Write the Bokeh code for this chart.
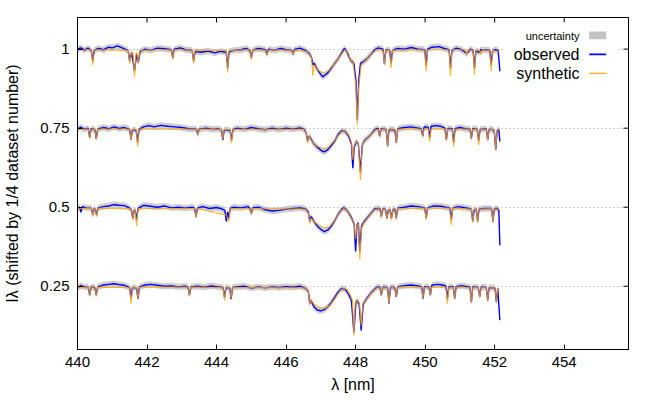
from bokeh.plotting import figure
from bokeh.models import (FixedTicker, NumeralTickFormatter, Label, BoxAnnotation, Range1d)
from bokeh.embed import file_html
from bokeh.resources import INLINE

# ---------------- data (normalised intensities) ----------------
# dataset 1 (top, shift 0)
wl_obs1 = [440.00, 440.10, 440.20, 440.30, 440.40, 440.44, 440.48, 440.60, 440.75, 440.90,
           441.00, 441.15, 441.30, 441.46, 441.50, 441.56, 441.64, 441.70, 441.75, 441.80,
           441.95, 442.10, 442.30, 442.50, 442.70, 442.74, 442.78, 442.95, 443.10, 443.30,
           443.34, 443.38, 443.55, 443.75, 443.95, 444.10, 444.28, 444.32, 444.36, 444.50,
           444.70, 444.85, 444.96, 445.00, 445.04, 445.20, 445.41, 445.45, 445.49, 445.65,
           445.85, 446.00, 446.16, 446.20, 446.24, 446.40, 446.55, 446.65, 446.73, 446.77,
           446.81, 446.90, 447.00, 447.05, 447.12, 447.20, 447.30, 447.40, 447.50, 447.60,
           447.68, 447.76, 447.85, 447.95, 448.01, 448.05, 448.09, 448.14, 448.25, 448.35,
           448.45, 448.55, 448.65, 448.79, 448.83, 448.87, 448.98, 449.02, 449.06, 449.20,
           449.40, 449.60, 449.80, 449.99, 450.03, 450.07, 450.20, 450.40, 450.55, 450.69,
           450.73, 450.77, 450.90, 451.05, 451.20, 451.30, 451.38, 451.42, 451.46, 451.55,
           451.60, 451.65, 451.75, 451.86, 451.90, 451.94, 452.02, 452.10, 452.15]
obs1 = [1.000, 1.004, 0.997, 1.003, 0.995, 0.962, 0.996, 1.002, 0.998, 1.006,
        1.004, 1.010, 1.003, 0.995, 0.962, 0.990, 0.930, 0.985, 0.958, 0.993,
        1.000, 0.996, 1.003, 1.001, 0.998, 0.972, 1.000, 1.004, 0.998, 0.996,
        0.962, 0.992, 0.990, 0.994, 0.988, 0.993, 0.990, 0.940, 0.992, 0.996,
        0.998, 1.002, 0.996, 0.972, 0.997, 1.002, 0.998, 0.982, 1.000, 0.996,
        1.002, 0.998, 0.996, 0.984, 0.999, 1.003, 0.996, 0.988, 0.975, 0.950,
        0.955, 0.935, 0.920, 0.912, 0.918, 0.925, 0.940, 0.955, 0.970, 0.988,
        1.002, 0.990, 0.965, 0.955, 0.900, 0.775, 0.900, 0.955, 0.962, 0.972,
        0.985, 0.998, 1.004, 1.000, 0.952, 0.998, 0.996, 0.955, 0.995, 1.002,
        1.000, 1.005, 1.000, 0.998, 0.948, 1.000, 1.006, 1.008, 1.002, 0.998,
        0.940, 0.996, 1.003, 0.998, 0.986, 1.000, 0.996, 0.940, 0.995, 0.990,
        0.998, 0.996, 0.998, 0.996, 0.950, 0.995, 0.998, 0.996, 0.930]
wl_syn1 = [440.00, 440.40, 440.44, 440.48, 441.46, 441.50, 441.56, 441.60, 441.64, 441.68,
           441.71, 441.75, 441.79, 442.70, 442.74, 442.78, 443.30, 443.34, 443.38, 444.28,
           444.32, 444.36, 444.96, 445.00, 445.04, 445.41, 445.45, 445.49, 446.16, 446.20,
           446.24, 446.60, 446.73, 446.77, 446.81, 446.90, 447.05, 447.20, 447.40, 447.60,
           447.70, 447.80, 447.85, 447.92, 448.01, 448.05, 448.09, 448.16, 448.30, 448.45,
           448.60, 448.79, 448.83, 448.87, 448.98, 449.02, 449.06, 449.99, 450.03, 450.07,
           450.69, 450.73, 450.77, 451.16, 451.20, 451.24, 451.38, 451.42, 451.46, 451.56,
           451.60, 451.64, 451.86, 451.90, 451.94, 452.15]
syn1 = [0.998, 0.998, 0.950, 0.998, 0.996, 0.955, 0.992, 0.985, 0.913, 0.985,
        0.990, 0.955, 0.996, 0.998, 0.968, 0.998, 0.997, 0.955, 0.997, 0.996,
        0.926, 0.996, 0.998, 0.968, 0.998, 0.997, 0.980, 0.997, 0.997, 0.983,
        0.997, 0.992, 0.975, 0.915, 0.950, 0.935, 0.925, 0.930, 0.955, 0.985,
        0.998, 0.985, 0.962, 0.965, 0.880, 0.760, 0.880, 0.950, 0.965, 0.985,
        0.998, 0.997, 0.950, 0.997, 0.996, 0.940, 0.996, 0.998, 0.930, 0.998,
        0.998, 0.915, 0.998, 0.998, 0.983, 0.998, 0.997, 0.920, 0.997, 0.997,
        0.982, 0.997, 0.997, 0.930, 0.997, 0.990]

# dataset 2 (shift -0.25)
wl_obs2 = [440.00, 440.10, 440.20, 440.31, 440.35, 440.39, 440.50, 440.54, 440.58, 440.75,
           440.90, 441.05, 441.20, 441.35, 441.50, 441.54, 441.58, 441.69, 441.73, 441.77,
           441.90, 442.05, 442.20, 442.40, 442.60, 442.80, 443.00, 443.20, 443.42, 443.46,
           443.50, 443.70, 443.90, 444.05, 444.14, 444.18, 444.22, 444.39, 444.43, 444.47,
           444.60, 444.80, 445.00, 445.20, 445.40, 445.60, 445.80, 446.00, 446.20, 446.40,
           446.52, 446.58, 446.62, 446.66, 446.72, 446.80, 446.90, 447.00, 447.10, 447.20,
           447.30, 447.40, 447.50, 447.60, 447.70, 447.80, 447.88, 447.92, 447.96, 448.02,
           448.08, 448.14, 448.19, 448.25, 448.40, 448.55, 448.65, 448.69, 448.73, 448.88,
           448.92, 448.96, 449.13, 449.17, 449.21, 449.40, 449.60, 449.80, 449.89, 449.93,
           449.97, 450.09, 450.13, 450.17, 450.30, 450.45, 450.57, 450.61, 450.65, 450.78,
           450.82, 450.86, 451.00, 451.15, 451.29, 451.33, 451.37, 451.50, 451.54, 451.58,
           451.76, 451.80, 451.84, 451.95, 451.99, 452.03, 452.07, 452.12, 452.15]
obs2 = [0.998, 1.003, 0.996, 1.000, 0.970, 0.998, 0.996, 0.966, 0.997, 1.002,
        0.998, 1.004, 0.999, 1.002, 0.996, 0.964, 0.995, 0.993, 0.955, 0.996,
        1.004, 1.008, 1.004, 1.009, 1.006, 1.004, 1.002, 0.998, 0.997, 0.980,
        0.997, 1.000, 0.996, 0.998, 0.994, 0.963, 0.995, 0.993, 0.962, 0.996,
        1.000, 0.996, 1.002, 0.998, 0.995, 1.000, 0.996, 1.000, 0.997, 1.001,
        0.996, 0.985, 0.958, 0.975, 0.965, 0.950, 0.940, 0.930, 0.925, 0.932,
        0.945, 0.960, 0.980, 0.992, 0.990, 0.975, 0.950, 0.873, 0.940, 0.958,
        0.950, 0.860, 0.945, 0.960, 0.975, 0.995, 1.000, 0.975, 0.998, 0.996,
        0.943, 0.996, 0.995, 0.953, 0.998, 1.002, 1.004, 1.000, 0.998, 0.975,
        1.004, 1.003, 0.970, 1.006, 1.008, 1.006, 1.000, 0.963, 0.999, 0.998,
        0.955, 0.998, 1.002, 0.998, 0.997, 0.968, 0.999, 0.996, 0.960, 0.996,
        0.998, 0.963, 0.997, 0.995, 0.990, 0.932, 0.992, 0.996, 0.958]
wl_syn2 = [440.00, 440.31, 440.35, 440.39, 440.50, 440.54, 440.58, 441.50, 441.54, 441.58,
           441.69, 441.73, 441.77, 443.42, 443.46, 443.50, 444.14, 444.18, 444.22, 444.39,
           444.43, 444.47, 446.50, 446.58, 446.62, 446.66, 446.72, 446.85, 447.05, 447.20,
           447.40, 447.60, 447.70, 447.80, 447.88, 447.92, 447.96, 448.02, 448.08, 448.14,
           448.19, 448.25, 448.40, 448.55, 448.65, 448.69, 448.73, 448.88, 448.92, 448.96,
           449.13, 449.17, 449.21, 449.89, 449.93, 449.97, 450.09, 450.13, 450.17, 450.57,
           450.61, 450.65, 450.78, 450.82, 450.86, 451.29, 451.33, 451.37, 451.50, 451.54,
           451.58, 451.76, 451.80, 451.84, 451.99, 452.03, 452.07, 452.15]
syn2 = [0.997, 0.997, 0.968, 0.997, 0.997, 0.965, 0.997, 0.997, 0.962, 0.997,
        0.995, 0.942, 0.997, 0.997, 0.978, 0.997, 0.996, 0.965, 0.996, 0.995,
        0.953, 0.996, 0.996, 0.985, 0.955, 0.975, 0.962, 0.945, 0.935, 0.938,
        0.962, 0.990, 0.992, 0.978, 0.955, 0.900, 0.945, 0.958, 0.950, 0.836,
        0.945, 0.958, 0.975, 0.993, 0.997, 0.975, 0.997, 0.996, 0.943, 0.996,
        0.996, 0.953, 0.997, 0.997, 0.975, 0.997, 0.997, 0.958, 0.997, 0.997,
        0.963, 0.997, 0.996, 0.942, 0.997, 0.997, 0.968, 0.997, 0.996, 0.947,
        0.997, 0.997, 0.963, 0.997, 0.994, 0.932, 0.994, 0.995]

# dataset 3 (shift -0.5)
wl_obs3 = [440.00, 440.06, 440.10, 440.14, 440.25, 440.40, 440.44, 440.48, 440.51, 440.55,
           440.59, 440.75, 440.90, 441.05, 441.20, 441.35, 441.50, 441.55, 441.59, 441.63,
           441.66, 441.70, 441.74, 441.90, 442.10, 442.30, 442.50, 442.70, 442.90, 443.10,
           443.30, 443.37, 443.41, 443.45, 443.60, 443.80, 444.00, 444.15, 444.24, 444.28,
           444.32, 444.35, 444.39, 444.50, 444.70, 444.90, 444.96, 445.00, 445.04, 445.20,
           445.40, 445.60, 445.80, 446.00, 446.20, 446.40, 446.55, 446.64, 446.68, 446.72,
           446.80, 446.90, 447.00, 447.10, 447.20, 447.30, 447.40, 447.50, 447.60, 447.66,
           447.75, 447.84, 447.90, 447.96, 448.00, 448.04, 448.08, 448.12, 448.17, 448.25,
           448.40, 448.55, 448.70, 448.74, 448.78, 448.86, 448.90, 448.94, 448.99, 449.03,
           449.07, 449.13, 449.17, 449.21, 449.40, 449.60, 449.80, 449.99, 450.03, 450.07,
           450.25, 450.45, 450.60, 450.71, 450.75, 450.79, 450.95, 451.10, 451.25, 451.33,
           451.37, 451.41, 451.47, 451.51, 451.55, 451.70, 451.91, 451.95, 451.99, 452.08,
           452.12, 452.15]
obs3 = [0.995, 1.000, 0.985, 1.002, 0.998, 0.997, 0.976, 0.996, 0.994, 0.975,
        0.998, 1.002, 1.004, 1.008, 1.006, 1.005, 0.997, 0.992, 0.965, 0.992,
        0.990, 0.960, 0.996, 1.006, 1.003, 1.000, 1.004, 0.998, 1.000, 0.997,
        1.000, 0.996, 0.970, 0.997, 1.002, 0.996, 0.999, 0.995, 0.990, 0.955,
        0.985, 0.965, 0.996, 1.000, 0.998, 1.002, 0.996, 0.980, 0.998, 1.000,
        0.992, 0.988, 0.990, 0.994, 0.996, 0.998, 0.995, 0.985, 0.955, 0.970,
        0.955, 0.940, 0.930, 0.923, 0.928, 0.940, 0.958, 0.978, 0.993, 0.998,
        0.990, 0.975, 0.962, 0.945, 0.860, 0.945, 0.950, 0.860, 0.940, 0.955,
        0.975, 0.995, 0.996, 0.970, 0.995, 0.994, 0.965, 0.990, 0.992, 0.965,
        0.992, 0.995, 0.965, 0.997, 1.000, 1.004, 1.002, 0.998, 0.965, 0.998,
        1.004, 1.003, 1.000, 0.998, 0.960, 0.997, 1.002, 0.999, 0.996, 0.994,
        0.955, 0.992, 0.994, 0.955, 0.994, 0.996, 0.996, 0.955, 0.995, 0.996,
        0.990, 0.880]
wl_syn3 = [440.00, 440.40, 440.44, 440.48, 440.51, 440.55, 440.59, 441.55, 441.59, 441.63,
           441.66, 441.70, 441.74, 443.37, 443.41, 443.45, 444.28, 444.35, 444.39, 444.96,
           445.00, 445.04, 446.55, 446.64, 446.68, 446.72, 446.80, 446.95, 447.10, 447.25,
           447.40, 447.55, 447.66, 447.75, 447.84, 447.90, 447.96, 448.00, 448.04, 448.08,
           448.12, 448.17, 448.25, 448.40, 448.55, 448.70, 448.74, 448.78, 448.86, 448.90,
           448.94, 448.99, 449.03, 449.07, 449.13, 449.17, 449.21, 449.99, 450.03, 450.07,
           450.71, 450.75, 450.79, 451.33, 451.37, 451.41, 451.47, 451.51, 451.55, 451.91,
           451.95, 451.99, 452.15]
syn3 = [0.995, 0.997, 0.972, 0.996, 0.995, 0.972, 0.997, 0.995, 0.962, 0.992,
        0.990, 0.940, 0.996, 0.996, 0.968, 0.996, 0.975, 0.955, 0.996, 0.996,
        0.978, 0.996, 0.994, 0.982, 0.950, 0.965, 0.955, 0.942, 0.935, 0.938,
        0.960, 0.985, 0.996, 0.990, 0.972, 0.960, 0.945, 0.900, 0.945, 0.948,
        0.835, 0.935, 0.952, 0.973, 0.993, 0.996, 0.968, 0.995, 0.994, 0.963,
        0.990, 0.992, 0.962, 0.992, 0.995, 0.962, 0.996, 0.997, 0.962, 0.997,
        0.997, 0.944, 0.997, 0.994, 0.952, 0.992, 0.994, 0.952, 0.994, 0.996,
        0.952, 0.995, 0.993]

# dataset 4 (shift -0.75)
wl_obs4 = [440.00, 440.10, 440.20, 440.31, 440.35, 440.39, 440.50, 440.54, 440.58, 440.75,
           440.90, 441.05, 441.20, 441.35, 441.50, 441.54, 441.58, 441.70, 441.74, 441.78,
           441.95, 442.10, 442.30, 442.50, 442.70, 442.90, 443.10, 443.18, 443.22, 443.26,
           443.45, 443.65, 443.85, 444.05, 444.19, 444.23, 444.27, 444.38, 444.42, 444.46,
           444.60, 444.80, 445.00, 445.20, 445.40, 445.60, 445.80, 446.00, 446.20, 446.40,
           446.55, 446.64, 446.68, 446.72, 446.80, 446.90, 447.00, 447.10, 447.20, 447.30,
           447.40, 447.50, 447.60, 447.70, 447.80, 447.88, 447.95, 448.01, 448.05, 448.10,
           448.16, 448.22, 448.30, 448.45, 448.60, 448.70, 448.74, 448.78, 448.92, 448.96,
           449.00, 449.13, 449.17, 449.21, 449.40, 449.60, 449.80, 449.90, 449.94, 449.98,
           450.11, 450.15, 450.19, 450.35, 450.50, 450.60, 450.64, 450.68, 450.81, 450.85,
           450.89, 451.05, 451.20, 451.29, 451.33, 451.37, 451.53, 451.57, 451.61, 451.76,
           451.80, 451.84, 452.01, 452.05, 452.09, 452.15]
obs4 = [0.995, 1.002, 0.998, 0.997, 0.972, 0.998, 0.996, 0.972, 0.998, 1.004,
        1.006, 1.008, 1.005, 1.003, 0.996, 0.962, 0.996, 0.995, 0.960, 0.998,
        1.004, 1.006, 1.003, 1.000, 1.001, 0.998, 1.000, 0.997, 0.972, 0.998,
        1.000, 0.997, 1.001, 0.998, 0.996, 0.965, 0.996, 0.994, 0.960, 0.996,
        0.998, 1.000, 0.994, 0.998, 0.995, 0.998, 0.996, 0.999, 0.997, 1.000,
        0.994, 0.985, 0.945, 0.955, 0.935, 0.925, 0.922, 0.926, 0.935, 0.948,
        0.965, 0.982, 0.993, 0.990, 0.975, 0.955, 0.855, 0.950, 0.955, 0.945,
        0.860, 0.945, 0.958, 0.980, 0.996, 0.998, 0.972, 0.997, 0.996, 0.945,
        0.997, 0.996, 0.966, 0.998, 1.002, 1.004, 1.001, 0.998, 0.961, 0.999,
        0.998, 0.972, 1.003, 1.006, 1.004, 1.000, 0.960, 0.999, 0.998, 0.961,
        0.999, 1.002, 0.999, 0.997, 0.950, 0.998, 0.996, 0.966, 0.998, 0.996,
        0.955, 0.996, 0.994, 0.950, 0.993, 0.893]
wl_syn4 = [440.00, 440.31, 440.35, 440.39, 440.50, 440.54, 440.58, 441.50, 441.54, 441.58,
           441.70, 441.74, 441.78, 443.18, 443.22, 443.26, 444.19, 444.23, 444.27, 444.38,
           444.42, 444.46, 446.55, 446.64, 446.68, 446.72, 446.82, 446.95, 447.10, 447.25,
           447.40, 447.55, 447.65, 447.75, 447.85, 447.91, 447.95, 447.99, 448.05, 448.11,
           448.16, 448.21, 448.30, 448.45, 448.60, 448.70, 448.74, 448.78, 448.92, 448.96,
           449.00, 449.13, 449.17, 449.21, 449.90, 449.94, 449.98, 450.11, 450.15, 450.19,
           450.60, 450.64, 450.68, 450.81, 450.85, 450.89, 451.29, 451.33, 451.37, 451.53,
           451.57, 451.61, 451.76, 451.80, 451.84, 452.01, 452.05, 452.09, 452.15]
syn4 = [0.995, 0.997, 0.970, 0.997, 0.997, 0.970, 0.997, 0.996, 0.945, 0.996,
        0.996, 0.960, 0.997, 0.997, 0.970, 0.997, 0.996, 0.955, 0.996, 0.995,
        0.962, 0.996, 0.995, 0.985, 0.942, 0.955, 0.942, 0.933, 0.930, 0.938,
        0.960, 0.985, 0.994, 0.990, 0.972, 0.955, 0.845, 0.950, 0.955, 0.948,
        0.875, 0.945, 0.958, 0.978, 0.994, 0.996, 0.972, 0.996, 0.995, 0.945,
        0.996, 0.996, 0.966, 0.997, 0.997, 0.961, 0.997, 0.997, 0.972, 0.997,
        0.997, 0.945, 0.997, 0.996, 0.961, 0.997, 0.996, 0.950, 0.996, 0.996,
        0.966, 0.996, 0.996, 0.955, 0.996, 0.994, 0.950, 0.993, 0.993]

shifts = [0.0, -0.25, -0.5, -0.75]
uncert = [0.010, 0.010, 0.010, 0.010]
x_ticks = [440, 442, 444, 446, 448, 450, 452, 454]
y_ticks = [0.25, 0.5, 0.75, 1.0]
x_lim = (440.0, 455.85)
y_lim = (0.05, 1.1)

datasets = [(wl_obs1, obs1, wl_syn1, syn1), (wl_obs2, obs2, wl_syn2, syn2),
            (wl_obs3, obs3, wl_syn3, syn3), (wl_obs4, obs4, wl_syn4, syn4)]

FONT = "Liberation Sans"
BLUE = "#0000ff"
ORANGE = "#ffa500"
GREY = "#bdbdbd"

p = figure(width=640, height=398, x_range=Range1d(*x_lim), y_range=Range1d(*y_lim),
           output_backend="svg", toolbar_location=None,
           min_border_left=77, min_border_right=12, min_border_top=17, min_border_bottom=49)
p.background_fill_color = "white"
p.border_fill_color = "white"
p.outline_line_color = "black"
p.outline_line_width = 1

p.xgrid.visible = False
p.ygrid.ticker = FixedTicker(ticks=y_ticks)
p.ygrid.grid_line_color = "#a0a0a0"
p.ygrid.grid_line_dash = "1 3"
p.ygrid.grid_line_width = 1

for (wo, o, ws, s), sh, u in zip(datasets, shifts, uncert):
    lo = [v + sh - u for v in o]
    hi = [v + sh + u for v in o]
    p.varea(x=wo, y1=lo, y2=hi, fill_color=GREY, fill_alpha=0.75)
    p.line(wo, [v + sh for v in o], line_color=BLUE, line_width=1.4)
    p.line(ws, [v + sh for v in s], line_color=ORANGE, line_width=1.2, line_alpha=0.8)

# axes styling (gnuplot-like inward ticks)
for ax in (p.xaxis[0], p.yaxis[0]):
    ax.axis_line_color = "black"
    ax.major_tick_in = 5
    ax.major_tick_out = 0
    ax.minor_tick_line_color = None
    ax.major_tick_line_color = "black"
    ax.major_label_text_font = FONT
    ax.major_label_text_font_size = "15px"
    ax.major_label_text_color = "black"
    ax.axis_label_text_font = FONT
    ax.axis_label_text_font_size = "16px"
    ax.axis_label_text_font_style = "normal"
    ax.axis_label_text_color = "black"

p.xaxis.ticker = FixedTicker(ticks=x_ticks)
p.yaxis.ticker = FixedTicker(ticks=y_ticks)
p.yaxis.formatter = NumeralTickFormatter(format="0.[00]")
p.xaxis.major_label_standoff = 7
p.yaxis.major_label_standoff = 8
p.xaxis.axis_label = "λ [nm]"
p.yaxis.axis_label = "Iλ (shifted by 1/4 dataset number)"
p.xaxis.axis_label_standoff = 6
p.yaxis.axis_label_standoff = 16

# mirrored ticks on the top and right frame edges
tick_dx = (x_lim[1] - x_lim[0]) * 5 / 551
tick_dy = (y_lim[1] - y_lim[0]) * 5 / 332
p.segment(x0=x_ticks, x1=x_ticks, y0=[y_lim[1]] * len(x_ticks),
          y1=[y_lim[1] - tick_dy] * len(x_ticks), line_color="black", line_width=1)
p.segment(x0=[x_lim[1]] * len(y_ticks), x1=[x_lim[1] - tick_dx] * len(y_ticks),
          y0=y_ticks, y1=y_ticks, line_color="black", line_width=1)

# legend (gnuplot style: text left, sample right)
p.add_layout(BoxAnnotation(left=452.3, right=455.55, bottom=0.90, top=1.075,
                           fill_color="white", fill_alpha=1.0, line_color=None))
p.add_layout(BoxAnnotation(left=454.72, right=455.21, bottom=1.031, top=1.056,
                           fill_color=GREY, fill_alpha=0.9, line_color=None))
p.add_layout(BoxAnnotation(left=454.72, right=455.21, bottom=0.981, top=0.986,
                           fill_color=BLUE, fill_alpha=1.0, line_color=None))
p.add_layout(BoxAnnotation(left=454.72, right=455.21, bottom=0.921, top=0.925,
                           fill_color=ORANGE, fill_alpha=0.9, line_color=None))
for txt, yv, fs in [("uncertainty", 1.043, "11px"), ("observed", 0.983, "16px"),
                    ("synthetic", 0.923, "16px")]:
    p.add_layout(Label(x=454.44, y=yv, text=txt, text_align="right", text_baseline="middle",
                       text_font=FONT, text_font_size=fs, text_color="black"))

open("out.html", "w").write(file_html(p, INLINE))
